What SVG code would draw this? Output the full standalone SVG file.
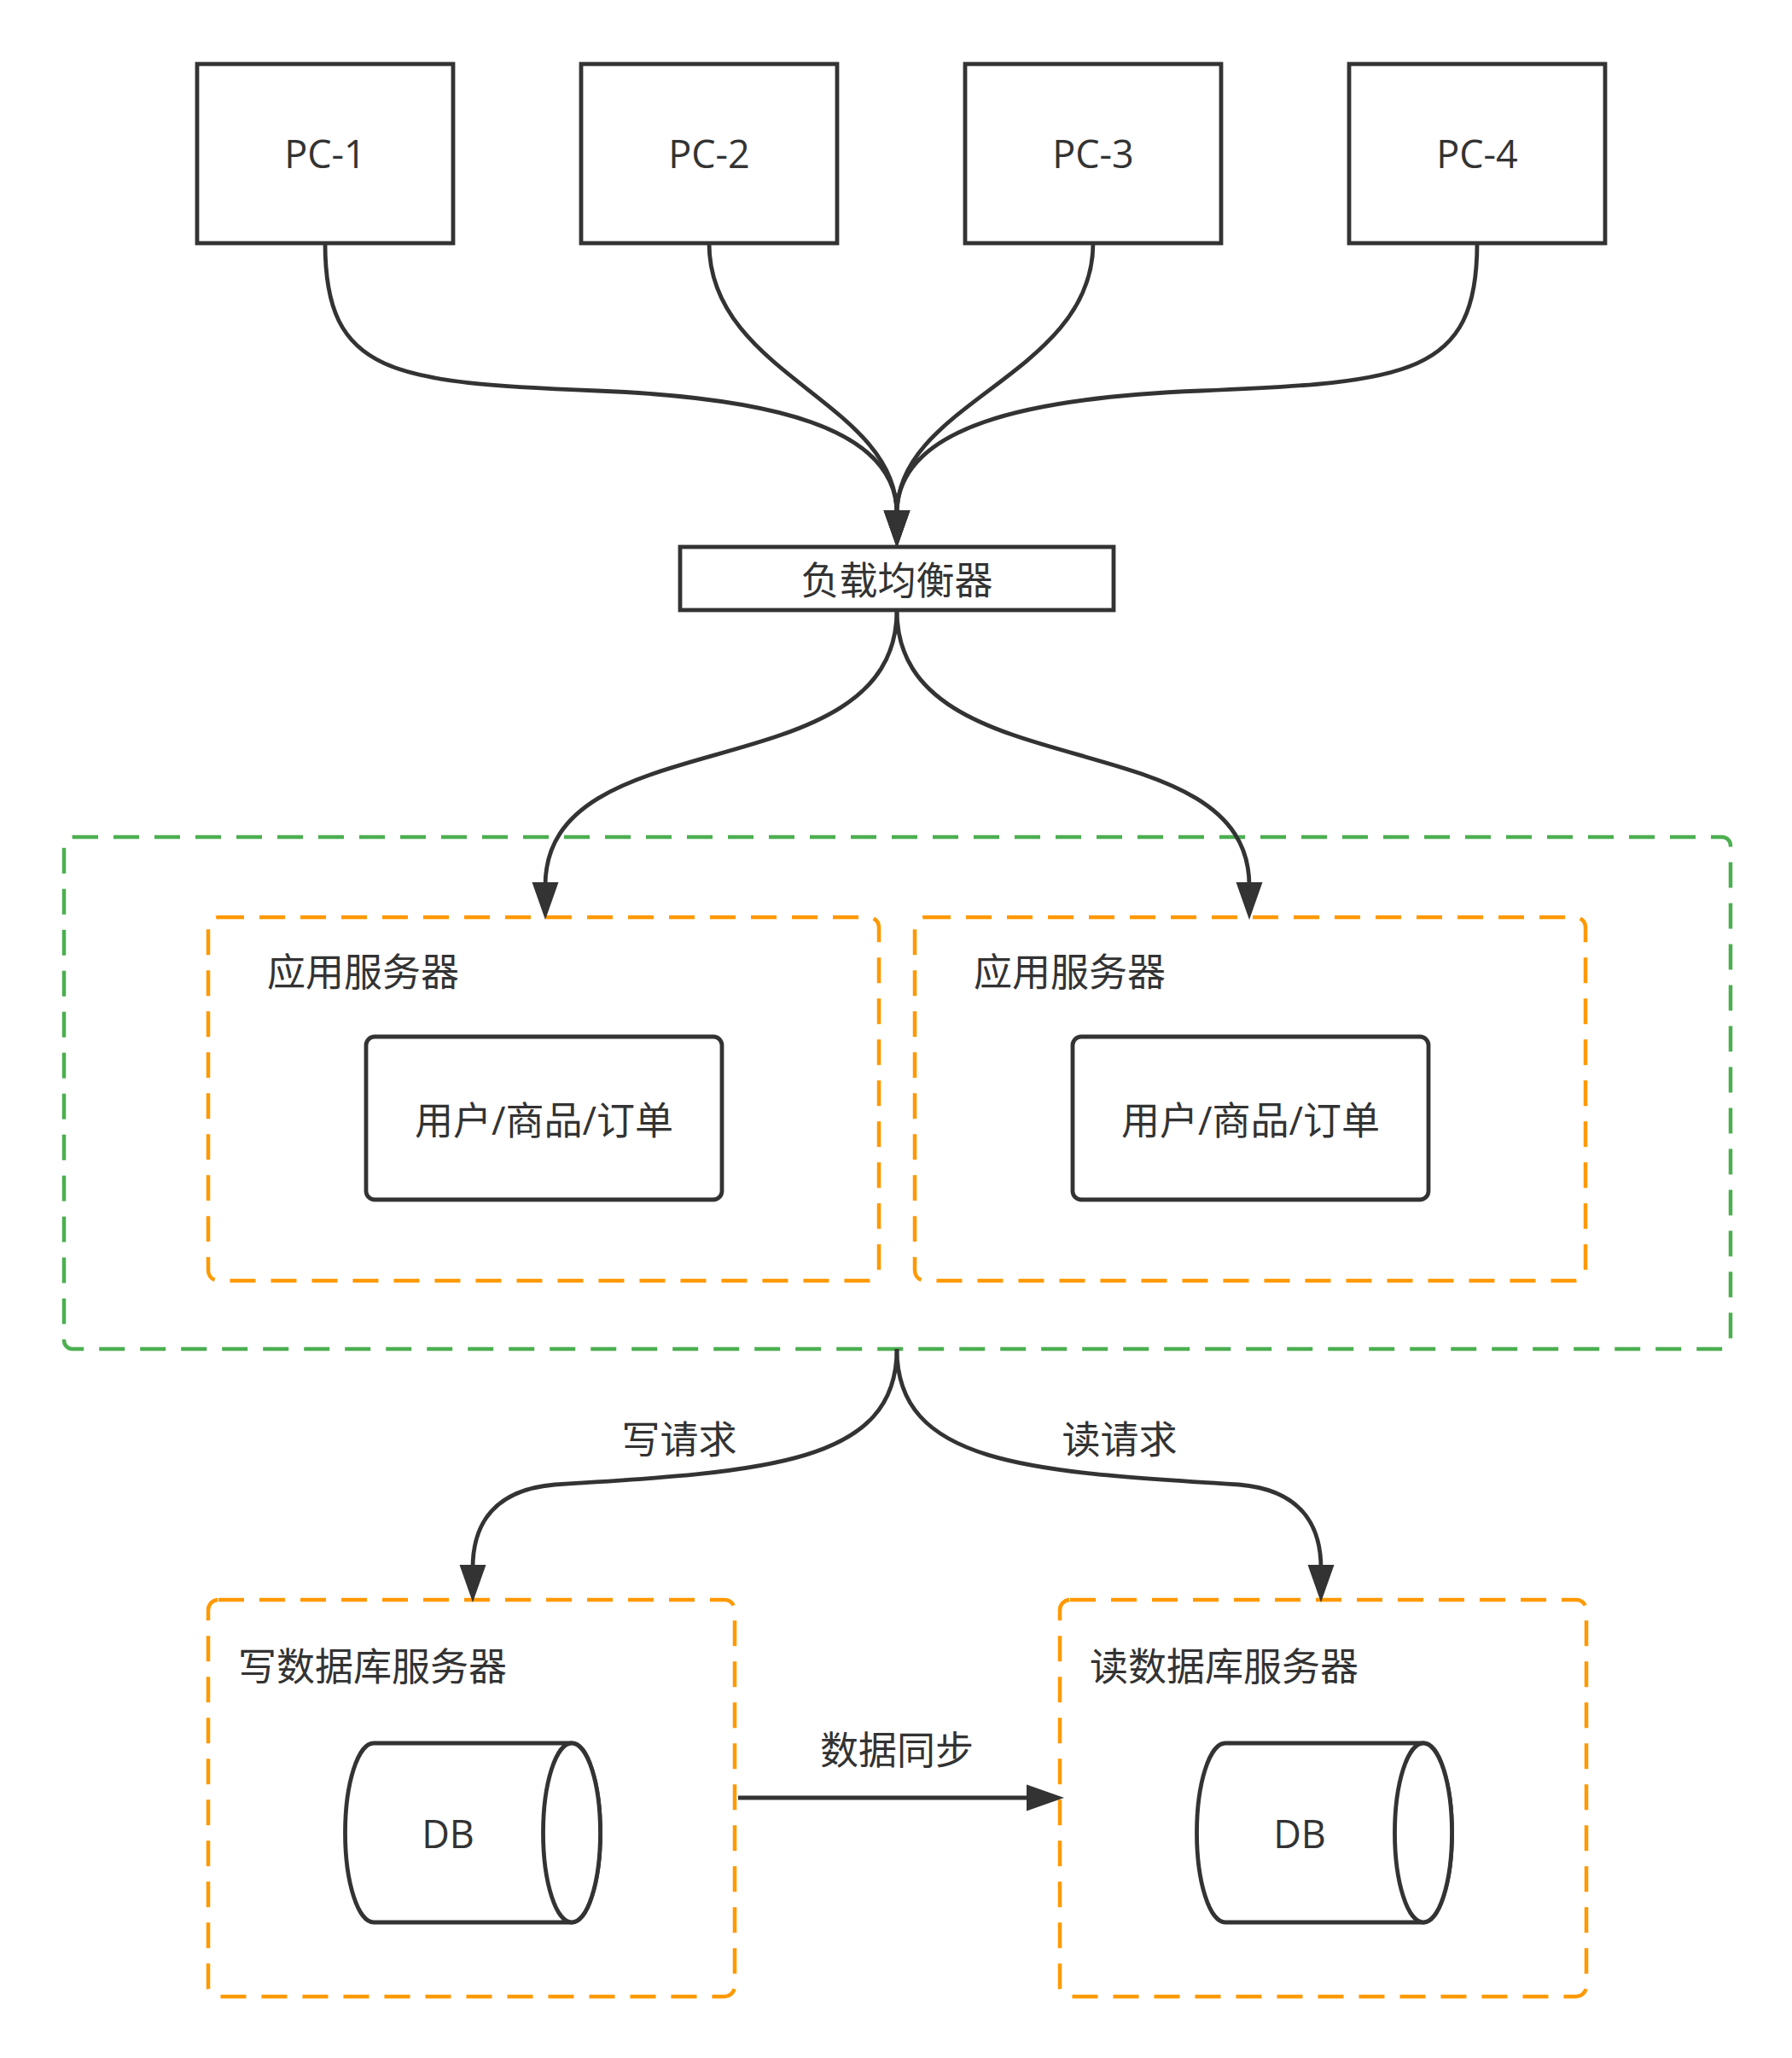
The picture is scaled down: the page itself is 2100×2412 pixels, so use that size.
<svg xmlns="http://www.w3.org/2000/svg" width="2100" height="2412" viewBox="0 0 2100 2412">
<defs>
<marker id="arr" markerUnits="userSpaceOnUse" markerWidth="46" markerHeight="33" viewBox="0 0 46 33" refX="5" refY="16.5" orient="auto">
<path d="M1,1 L45,16.5 L1,32 Z" fill="#333333"/>
</marker>
<style>
text{font-family:"Open Sans","Noto Sans CJK SC",sans-serif;font-size:45px;fill:#333333}
.mid{text-anchor:middle}
.box{fill:#ffffff;stroke:#333333;stroke-width:4.8}
.grp{fill:none;stroke:#4CAF50;stroke-width:4.5;stroke-dasharray:30 18}
.sub{fill:#ffffff;stroke:#FF9900;stroke-width:4.5;stroke-dasharray:30 18}
.edge{fill:none;stroke:#333333;stroke-width:4.8;marker-end:url(#arr)}
</style>
</defs>
<rect width="2100" height="2412" fill="#ffffff"/>

<g id="pc1"><rect class="box" x="231" y="75" width="300" height="210"/><text class="mid" x="381" y="197">PC-1</text></g>
<g id="pc2"><rect class="box" x="681" y="75" width="300" height="210"/><text class="mid" x="831" y="197">PC-2</text></g>
<g id="pc3"><rect class="box" x="1131" y="75" width="300" height="210"/><text class="mid" x="1281" y="197">PC-3</text></g>
<g id="pc4"><rect class="box" x="1581" y="75" width="300" height="210"/><text class="mid" x="1731" y="197">PC-4</text></g>

<g id="lb"><rect class="box" x="797" y="641" width="508" height="74"/><text class="mid" x="1051" y="697">负载均衡器</text></g>

<g id="cluster"><rect class="grp" x="75" y="981" width="1953" height="600" rx="10"/></g>

<g id="app1"><rect class="sub" x="244" y="1075" width="786" height="426" rx="12"/><text x="313" y="1156">应用服务器</text>
<rect class="box" x="429" y="1215" width="417" height="191" rx="10"/><text class="mid" x="637.5" y="1330">用户/商品/订单</text></g>

<g id="app2"><rect class="sub" x="1072" y="1075" width="786" height="426" rx="12"/><text x="1141" y="1156">应用服务器</text>
<rect class="box" x="1257" y="1215" width="417" height="191" rx="10"/><text class="mid" x="1465.5" y="1330">用户/商品/订单</text></g>

<g id="writedb"><rect class="sub" x="244" y="1875" width="617" height="465" rx="12"/><text x="279" y="1970">写数据库服务器</text>
<path class="box" d="M438,2043 L670,2043 A33.5,105 0 0 1 670,2253 L438,2253 A33.5,105 0 0 1 438,2043 Z"/>
<ellipse class="box" cx="670" cy="2148" rx="33.5" ry="105"/>
<text class="mid" x="525" y="2166">DB</text></g>

<g id="readdb"><rect class="sub" x="1242" y="1875" width="617" height="465" rx="12"/><text x="1277" y="1970">读数据库服务器</text>
<path class="box" d="M1436,2043 L1668,2043 A33.5,105 0 0 1 1668,2253 L1436,2253 A33.5,105 0 0 1 1436,2043 Z"/>
<ellipse class="box" cx="1668" cy="2148" rx="33.5" ry="105"/>
<text class="mid" x="1523" y="2166">DB</text></g>

<g id="connectors">
<path class="edge" d="M381,285 C381,440 460,448 700,458 C900,466 1051,500 1051,602"/>
<path class="edge" d="M831,285 C831,440 1051,470 1051,602"/>
<path class="edge" d="M1281,285 C1281,440 1051,470 1051,602"/>
<path class="edge" d="M1731,285 C1731,440 1651,448 1407,458 C1204,466 1051,500 1051,602"/>
<path class="edge" d="M1051,715 C1051,930 639,840 639,1038"/>
<path class="edge" d="M1051,715 C1051,930 1464,840 1464,1038"/>
<path class="edge" d="M1051,1581 C1051,1715 900,1725 650,1740 C580,1746 554,1785 554,1838"/>
<path class="edge" d="M1051,1581 C1051,1715 1202,1725 1452,1740 C1522,1746 1548,1785 1548,1838"/>
<path class="edge" d="M865,2107 L1207,2107"/>
<text class="mid" x="796" y="1704">写请求</text>
<text class="mid" x="1312" y="1704">读请求</text>
<text class="mid" x="1051" y="2068">数据同步</text>
</g>
</svg>
